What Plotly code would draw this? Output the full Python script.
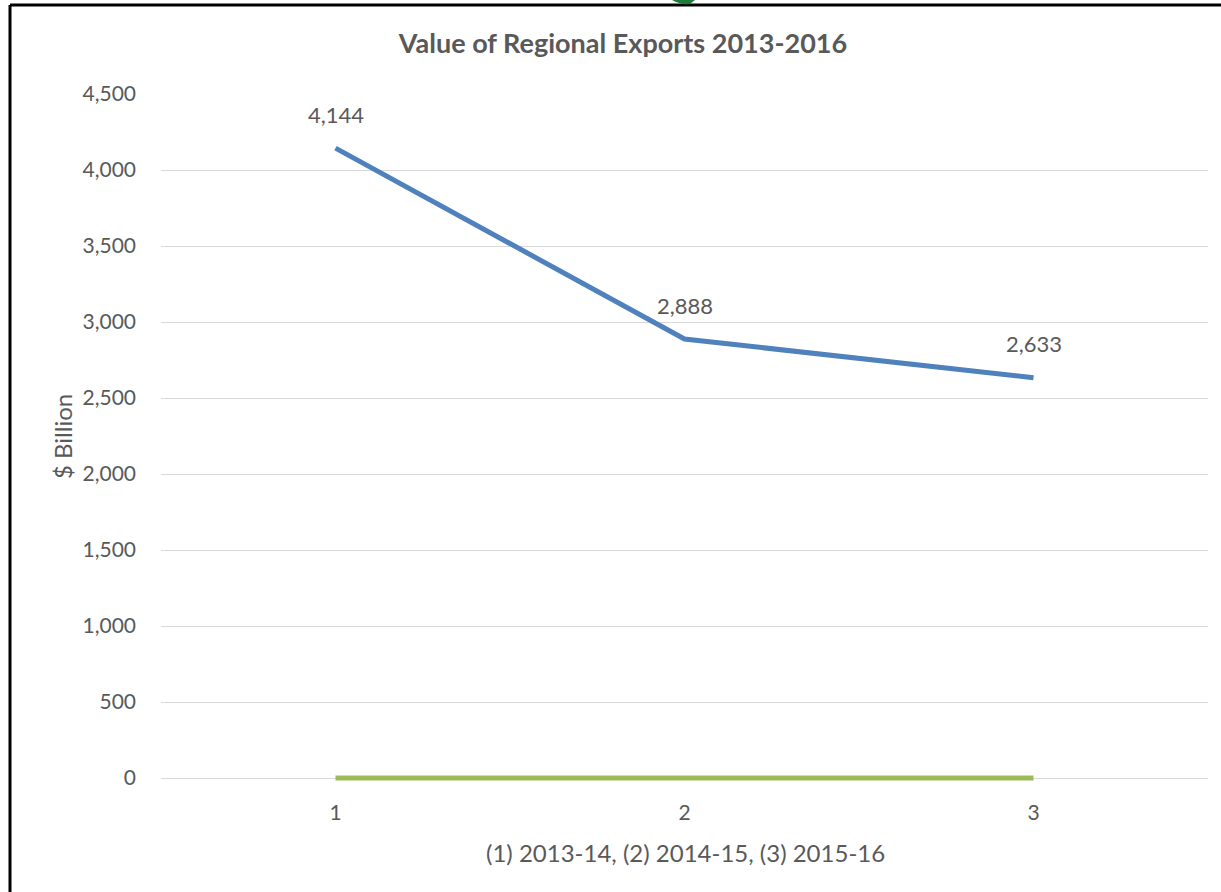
import plotly.graph_objects as go

categories = [1, 2, 3]
exports = [4144, 2888, 2633]
baseline = [0, 0, 0]
ytick_vals = [0, 500, 1000, 1500, 2000, 2500, 3000, 3500, 4000, 4500]
ytick_text = ["0", "500", "1,000", "1,500", "2,000", "2,500", "3,000", "3,500", "4,000", "4,500"]
label_text = ["4,144", "2,888", "2,633"]

W, H = 1221, 892
L, R, T, B = 161, 1208, 94, 781   # plot area extends 3px below zero line
Y0 = 778                           # pixel row of value 0
pw, ph = R - L, B - T
ymin = -(B - Y0) * 4500 / (Y0 - T)

def px(x):
    return (x - L) / pw

def py(y):
    return (B - y) / ph

FONT = "Lato"
GRAY = "#595959"

fig = go.Figure()
fig.add_trace(go.Scatter(x=categories, y=baseline, mode="lines",
                         line=dict(color="#9BBB59", width=5), hoverinfo="skip",
                         showlegend=False))
fig.add_trace(go.Scatter(x=categories, y=exports, mode="lines",
                         line=dict(color="#4F81BD", width=5), showlegend=False))

for c, v, t in zip(categories, exports, label_text):
    fig.add_annotation(x=c, y=v, text=t, showarrow=False, yshift=34,
                       font=dict(family=FONT, size=22, color=GRAY))

shapes = [
    dict(type="line", xref="paper", yref="paper", x0=px(10), x1=px(10),
         y0=py(5), y1=py(900), line=dict(color="black", width=3)),
    dict(type="line", xref="paper", yref="paper", x0=px(10), x1=px(1230),
         y0=py(5), y1=py(5), line=dict(color="black", width=3)),
    dict(type="path", xref="paper", yref="paper",
         path=f"M {px(672)} {py(0)} Q {px(680)} {py(5)} {px(690)} {py(4)} L {px(695)} {py(0)} Z",
         fillcolor="#1E7B3C", line=dict(width=0)),
]

fig.update_layout(
    width=W, height=H,
    margin=dict(l=L, r=W - R, t=T, b=H - B),
    paper_bgcolor="white", plot_bgcolor="white",
    shapes=shapes,
    title=dict(text="<b>Value of Regional Exports 2013-2016</b>", x=623 / W, xref="container",
               xanchor="center", y=1 - 44 / H, yanchor="middle",
               font=dict(family=FONT, size=27, color=GRAY)),
    xaxis=dict(range=[0.5, 3.5], tickvals=categories, ticktext=[str(c) for c in categories],
               showgrid=False, zeroline=False, showline=False, ticks="",
               ticklabelstandoff=17,
               tickfont=dict(family=FONT, size=21, color=GRAY)),
    yaxis=dict(range=[ymin, 4500], tickvals=ytick_vals, ticktext=ytick_text,
               showgrid=True, gridcolor="#D9D9D9", gridwidth=1, zeroline=False,
               showline=False, ticks="", ticklabelstandoff=24,
               tickfont=dict(family=FONT, size=21, color=GRAY)),
    annotations=list(fig.layout.annotations) + [
        dict(text="$ Billion", xref="paper", yref="paper", x=px(62), y=py(437),
             textangle=-90, showarrow=False, xanchor="center", yanchor="middle",
             font=dict(family=FONT, size=24, color=GRAY)),
        dict(text="(1) 2013-14, (2) 2014-15, (3) 2015-16", xref="paper", yref="paper",
             x=px(685), y=py(852), showarrow=False, xanchor="center", yanchor="middle",
             font=dict(family=FONT, size=24, color=GRAY)),
    ],
)

fig.write_html("out.html", config={"displayModeBar": False},
               post_script="document.body.style.margin='0';")
